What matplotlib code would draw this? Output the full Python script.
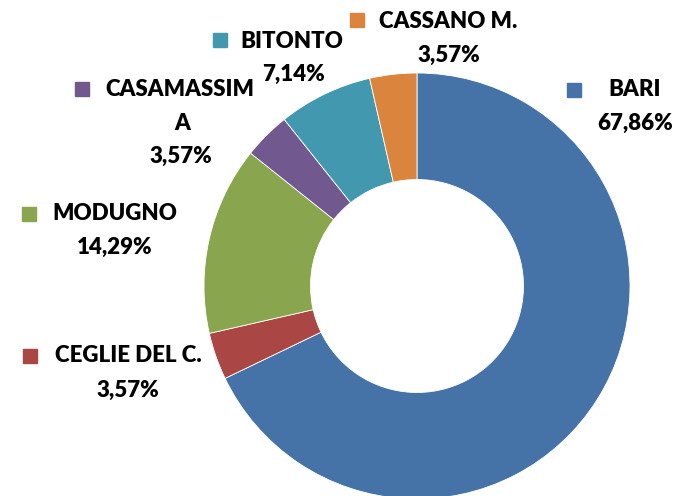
import matplotlib
matplotlib.use("Agg")
from matplotlib import pyplot as plt

# data
categories = ["BARI", "CEGLIE DEL C.", "MODUGNO", "CASAMASSIM\nA", "BITONTO", "CASSANO M."]
percent = [67.86, 3.57, 14.29, 3.57, 7.14, 3.57]
value_labels = ["67,86%", "3,57%", "14,29%", "3,57%", "7,14%", "3,57%"]

colors = ["#4572A7", "#AA4643", "#89A54E", "#71588F", "#4198AF", "#DB843D"]

W, H = 681, 496
CX, CY, R = 417, 286, 213  # donut centre / radius in pixels (from top-left)

# label layout in pixels from top-left: (marker x, marker y, name x, name y, value x, value y)
label_pos = [
    (574, 90, 635, 90, 635, 123),
    (30, 356, 128, 356, 128, 390),
    (29, 214, 115, 214, 115, 247),
    (82, 89, 180, 90, 181, 156),
    (220, 40, 292, 42, 293, 74),
    (357, 20, 448, 22, 449, 55),
]

plt.rcParams["font.family"] = ["Lato", "DejaVu Sans"]

fig = plt.figure(figsize=(W / 100, H / 100), dpi=100)
ax = fig.add_axes([0, 0, 1, 1])

ax.pie(
    percent,
    colors=colors,
    startangle=90,
    counterclock=False,
    radius=1,
    wedgeprops=dict(width=0.5, edgecolor="white", linewidth=0.6),
)
ax.set_aspect("auto")
ax.set_xlim(-CX / R, (W - CX) / R)
ax.set_ylim(-(H - CY) / R, CY / R)
ax.axis("off")


def px(x, y):
    return (x - CX) / R, (CY - y) / R


txt = dict(ha="center", va="center", fontsize=16, fontweight="heavy", color="black")
for name, val, col, (mx, my, nx, ny, vx, vy) in zip(categories, value_labels, colors, label_pos):
    lines = name.split("\n")
    ax.plot(*px(mx, my), marker="s", markersize=10.5, color=col, linestyle="none")
    ax.text(*px(nx, ny), lines[0], **txt)
    if len(lines) > 1:
        ax.text(*px(nx + 2, ny + 33), lines[1], **txt)
    ax.text(*px(vx, vy), val, **txt)

fig.savefig("out.png", dpi=100)
